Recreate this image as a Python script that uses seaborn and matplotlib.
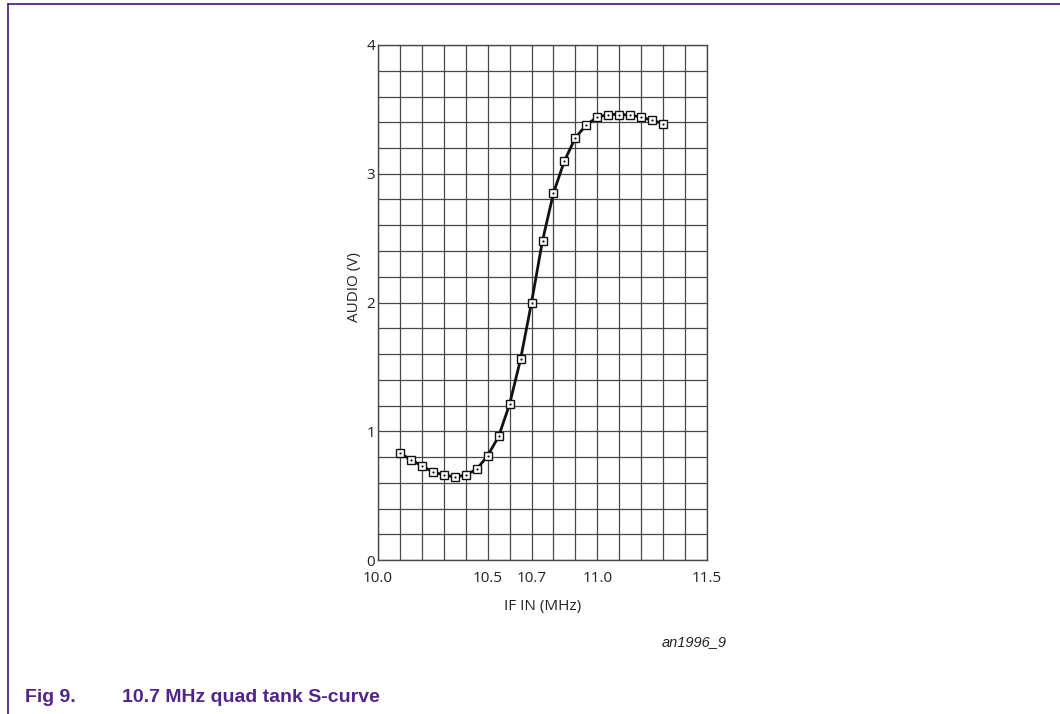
import matplotlib
matplotlib.use("Agg")
import matplotlib.pyplot as plt
import numpy as np
import pandas as pd
import seaborn as sns

freq_mhz = [10.10, 10.15, 10.20, 10.25, 10.30, 10.35, 10.40, 10.45, 10.50,
            10.55, 10.60, 10.65, 10.70, 10.75, 10.80, 10.85, 10.90, 10.95,
            11.00, 11.05, 11.10, 11.15, 11.20, 11.25, 11.30]
audio_v = [0.83, 0.78, 0.73, 0.685, 0.66, 0.645, 0.66, 0.705, 0.81,
           0.96, 1.21, 1.56, 2.00, 2.48, 2.85, 3.10, 3.28, 3.38,
           3.44, 3.46, 3.46, 3.455, 3.44, 3.415, 3.39]

x_ticks = [10.0, 10.5, 10.7, 11.0, 11.5]
x_tick_labels = ["10.0", "10.5", "10.7", "11.0", "11.5"]
y_ticks = [0, 1, 2, 3, 4]

df = pd.DataFrame({"IF IN (MHz)": freq_mhz, "AUDIO (V)": audio_v})

sns.set_theme(style="white")
plt.rcParams["font.family"] = ["Open Sans", "DejaVu Sans"]

purple = "#52248A"
grid_col = "#484848"

fig = plt.figure(figsize=(10.6, 7.14), dpi=100)
ax = fig.add_axes([378 / 1060, 154 / 714, 329 / 1060, 515 / 714])

sns.lineplot(data=df, x="IF IN (MHz)", y="AUDIO (V)", ax=ax, color="#111111",
             linewidth=2.0, marker="s", markersize=5.2, markerfacecolor="white",
             markeredgecolor="#111111", markeredgewidth=1.0, zorder=3)
# small dot in the middle of each square marker
sns.scatterplot(data=df, x="IF IN (MHz)", y="AUDIO (V)", ax=ax, color="#111111",
                s=2.5, linewidth=0, zorder=4)

ax.set_xlim(10.0, 11.5)
ax.set_ylim(0, 4)
ax.set_xticks(x_ticks)
ax.set_xticklabels(x_tick_labels)
ax.set_yticks(y_ticks)
ax.set_xticks(np.arange(10.0, 11.501, 0.1), minor=True)
ax.set_yticks(np.arange(0, 4.001, 0.2), minor=True)
ax.grid(which="both", color=grid_col, linewidth=0.9)
ax.set_axisbelow(True)
ax.tick_params(which="both", length=0, colors="#222222", labelsize=11)
ax.tick_params(axis="x", pad=8)
ax.tick_params(axis="y", pad=2)
for s in ax.spines.values():
    s.set_color(grid_col)
    s.set_linewidth(1.0)

ax.set_xlabel("IF IN (MHz)", fontsize=11, color="#222222", labelpad=9)
ax.set_ylabel("AUDIO (V)", fontsize=11, color="#222222")
ax.yaxis.set_label_coords(-0.05, 0.53)

# document frame lines and caption
fig.add_artist(plt.Line2D([8 / 1060, 8 / 1060], [0, 1 - 4 / 714],
                          color=purple, linewidth=1.3))
fig.add_artist(plt.Line2D([8 / 1060, 1], [1 - 4 / 714, 1 - 4 / 714],
                          color=purple, linewidth=1.3))
fig.text(727 / 1060, 1 - 642 / 714, "an1996_9", ha="right", va="center",
         fontsize=10.5, style="italic", color="#222222", family="Liberation Sans")
fig.text(25 / 1060, 1 - 697 / 714, "Fig 9.", ha="left", va="center",
         fontsize=14, weight="bold", color=purple, family="Liberation Sans")
fig.text(122 / 1060, 1 - 697 / 714, "10.7 MHz quad tank S-curve", ha="left",
         va="center", fontsize=14, weight="bold", color=purple,
         family="Liberation Sans")

fig.savefig("out.png", dpi=100, facecolor="white")
